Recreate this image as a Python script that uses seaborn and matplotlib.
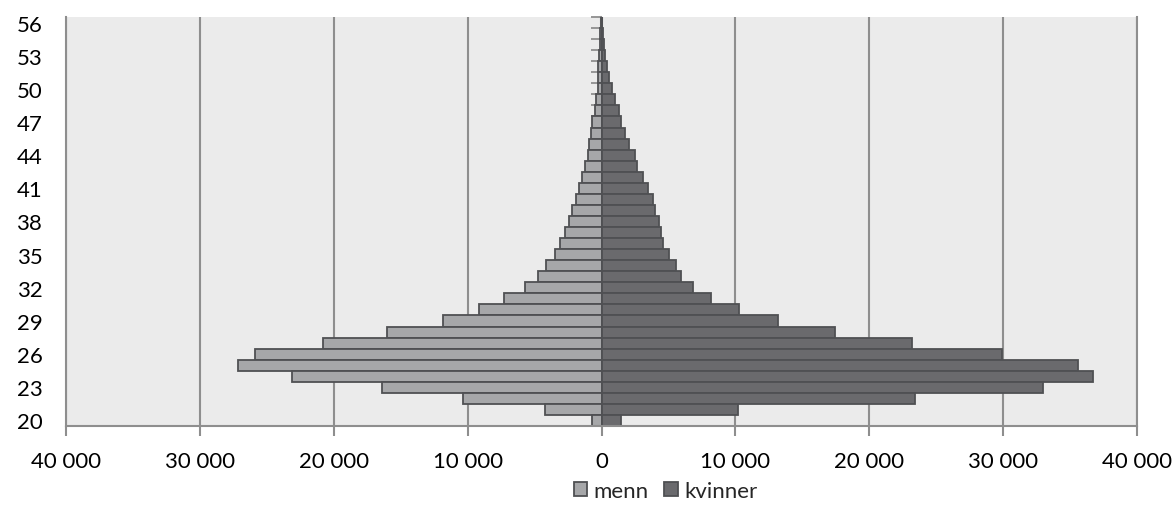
import numpy as np
import pandas as pd
import matplotlib
matplotlib.use("Agg")
from matplotlib import pyplot as plt
from matplotlib.ticker import FuncFormatter
import seaborn as sns

# ages 20..56
ages = list(range(20, 57))
menn = [700, 4200, 10350, 16400, 23100, 27150, 25850, 20800, 16050, 11850,
        9170, 7290, 5740, 4740, 4140, 3510, 3110, 2710, 2430, 2170,
        1940, 1710, 1460, 1260, 1030, 940, 800, 690, 510, 400,
        290, 260, 230, 170, 140, 100, 60]
kvinner = [1480, 10200, 23450, 32950, 36700, 35600, 29900, 23200, 17450, 13200,
           10250, 8200, 6850, 5950, 5600, 5050, 4600, 4450, 4300, 4000,
           3830, 3460, 3130, 2650, 2500, 2070, 1790, 1480, 1310, 1000,
           810, 560, 390, 250, 170, 85, 55]
x_ticks = [-40000, -30000, -20000, -10000, 0, 10000, 20000, 30000, 40000]
label_ages = list(range(20, 57, 3))

df = pd.concat([
    pd.DataFrame({"alder": [str(a) for a in ages], "antall": [-v for v in menn], "kjønn": "menn"}),
    pd.DataFrame({"alder": [str(a) for a in ages], "antall": kvinner, "kjønn": "kvinner"}),
])
order = [str(a) for a in reversed(ages)]

sns.set_theme(style="whitegrid", rc={"axes.facecolor": "#ebebeb"})
plt.rcParams["font.family"] = ["Lato", "DejaVu Sans"]

fig = plt.figure(figsize=(11.76, 5.10), dpi=100)
ax = fig.add_axes([66 / 1176, 1 - 427 / 510, (1137 - 66) / 1176, (427 - 18) / 510])

sns.barplot(
    data=df, x="antall", y="alder", hue="kjønn",
    order=order, hue_order=["menn", "kvinner"],
    palette={"menn": "#a6a7a9", "kvinner": "#696a6e"},
    dodge=False, width=1.0, edgecolor="#4f5053", linewidth=1.3,
    orient="h", ax=ax, zorder=2,
)

ax.set_xlim(-40000, 40000)
ax.set_ylim(len(ages) - 0.5, -0.5)
ax.set_xticks(x_ticks)
ax.xaxis.set_major_formatter(FuncFormatter(lambda v, p: f"{abs(int(v)):,}".replace(",", " ")))
ax.set_yticks([order.index(str(a)) for a in label_ages], [str(a) for a in label_ages])

ax.grid(axis="x", color="#8e8e8e", linewidth=1.5)
ax.grid(axis="y", visible=False)
ax.set_xlabel("")
ax.set_ylabel("")
ax.spines["top"].set_visible(False)
for s in ["left", "right", "bottom"]:
    ax.spines[s].set_color("#8e8e8e")
    ax.spines[s].set_linewidth(1.5)
ax.tick_params(axis="x", length=7, width=1.5, color="#8e8e8e", direction="out",
               bottom=True, labelsize=16, labelcolor="black", pad=11)
ax.tick_params(axis="y", length=0, labelsize=16, labelcolor="black", pad=17)

# vertical category axis at zero
sec = ax.secondary_yaxis(0.5)
sec.set_alignment("left")
sec.set_yticks(np.arange(-0.5, len(ages), 1.0), labels=[])
sec.tick_params(length=7, width=1.3, color="#8e8e8e", direction="out")
sec.spines["left"].set_color("#8e8e8e")
sec.spines["left"].set_linewidth(1.5)

sns.move_legend(ax, "center", bbox_to_anchor=(0.56, -0.158), ncol=2,
                title=None, frameon=False, fontsize=16, handlelength=0.6,
                handleheight=0.6, handletextpad=0.3, columnspacing=0.7)

fig.savefig("out.png", dpi=100)
